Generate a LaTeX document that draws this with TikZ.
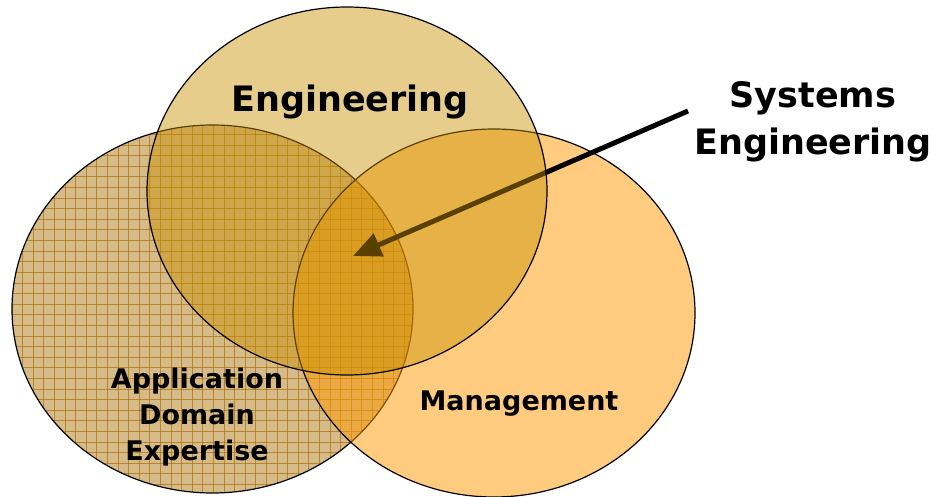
\documentclass[tikz,border=0pt]{standalone}
\usepackage{fontspec}
\setmainfont{DejaVu Sans}
\usetikzlibrary{arrows.meta}
\definecolor{appfill}{RGB}{214,187,136}
\definecolor{gridc}{RGB}{170,112,10}
\definecolor{mgmt}{RGB}{255,153,0}
\definecolor{eng}{RGB}{200,144,0}
\tikzset{
  lbl/.style={font=\bfseries\fontsize{27}{36}\selectfont, align=center, inner sep=0pt, anchor=base},
  biglbl/.style={font=\bfseries\fontsize{35}{47}\selectfont, align=center, inner sep=0pt, anchor=base},
  outline/.style={draw=black, line width=1.2pt},
  gridline/.style={draw=gridc, line width=1pt, draw opacity=0.7},
  pointer/.style={draw=black, line width=5pt, -{Triangle[length=28pt,width=24pt]}},
}
\begin{document}
\begin{tikzpicture}[x=1pt,y=-1pt]
\useasboundingbox (0,0) rectangle (937,497);
% Application Domain Expertise
\fill[appfill] (212.5,309) ellipse [x radius=200.5, y radius=184];
\begin{scope}
  \clip (212.5,309) ellipse [x radius=200.5, y radius=184];
  \foreach \i in {0,...,38} { \draw[gridline] ({12+10.6*\i},110) -- ({12+10.6*\i},497); }
  \foreach \j in {0,...,36} { \draw[gridline] (0,{124+10.6*\j}) -- (420,{124+10.6*\j}); }
\end{scope}
\draw[outline] (212.5,309) ellipse [x radius=200.5, y radius=184];
% Management
\fill[mgmt, fill opacity=0.5] (494,313) ellipse [x radius=201, y radius=184];
\draw[outline] (494,313) ellipse [x radius=201, y radius=184];
% Arrow
\coordinate (sestart) at (688,111);
\coordinate (setip) at (353,256);
\draw[pointer] (sestart) -- (setip);
% Engineering
\fill[eng, fill opacity=0.45] (347,191) ellipse [x radius=200, y radius=184];
\draw[outline] (347,191) ellipse [x radius=200, y radius=184];
% Labels
\node[biglbl] (englbl) at (350,112) {Engineering};
\node[biglbl] (selbl) at (813,155) {Systems\\Engineering};
\node[lbl] (mgmtlbl) at (519,410) {Management};
\node[lbl] (applbl) at (197,460) {Application\\Domain\\Expertise};
\end{tikzpicture}
\end{document}
